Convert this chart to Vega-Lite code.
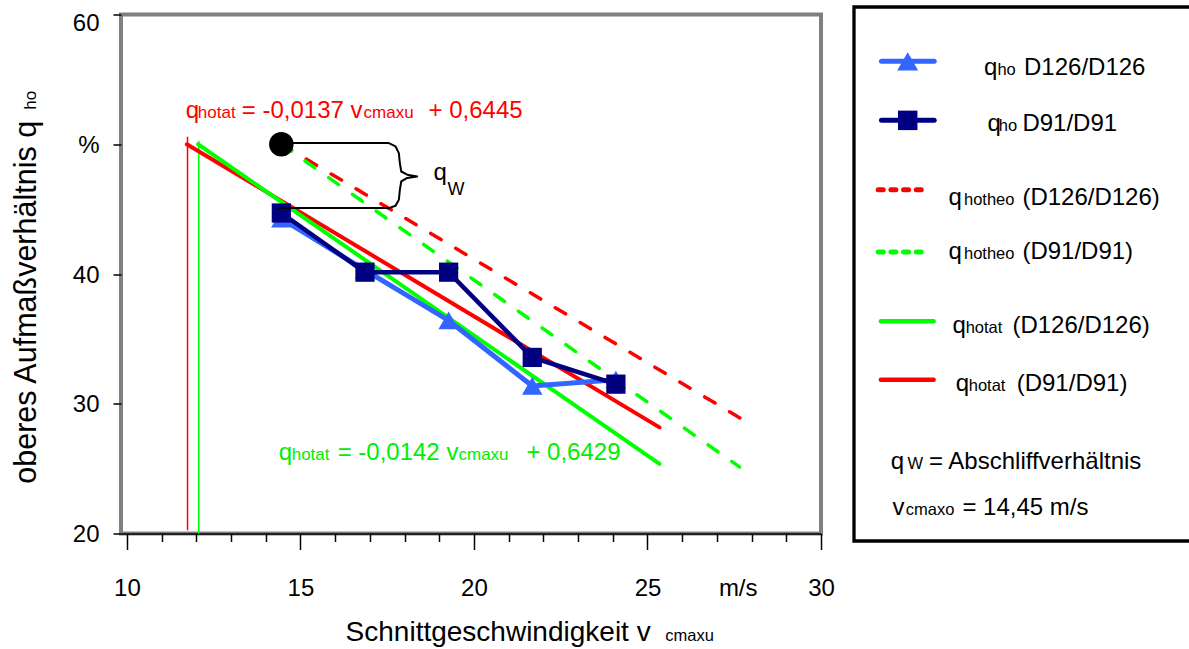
{
  "$schema": "https://vega.github.io/schema/vega-lite/v6.json",
  "background": "white",
  "padding": {"left": 10, "top": 0, "right": 0, "bottom": 0},
  "spacing": 33,
  "bounds": "flush",
  "center": true,
  "config": {
    "font": "Liberation Sans",
    "axis": {"labelFont": "Liberation Sans", "labelColor": "#000000", "tickColor": "#000000", "domainColor": "#000000"}
  },
  "datasets": {
    "grid": [{"q": 25}, {"q": 30}, {"q": 35}, {"q": 40}, {"q": 45}, {"q": 50}, {"q": 55}],
    "vlines": [
      {"s": "D91", "v": 11.747, "q": 50.58, "q2": 20.25},
      {"s": "D126", "v": 12.07, "q": 50.27, "q2": 20}
    ],
    "fits": [
      {"s": "hotat D91", "v": 11.727, "q": 50.0},
      {"s": "hotat D91", "v": 25.347, "q": 28.18},
      {"s": "hotat D126", "v": 12.05, "q": 50.0},
      {"s": "hotat D126", "v": 25.347, "q": 25.36},
      {"s": "hotheo D126", "v": 14.45, "q": 50.0},
      {"s": "hotheo D126", "v": 28.07, "q": 28.26},
      {"s": "hotheo D91", "v": 14.45, "q": 50.0},
      {"s": "hotheo D91", "v": 27.65, "q": 25.13}
    ],
    "pts": [
      {"s": "D126", "v": 14.45, "q": 44.26},
      {"s": "D126", "v": 16.86, "q": 40.3},
      {"s": "D126", "v": 19.27, "q": 36.42},
      {"s": "D126", "v": 21.68, "q": 31.37},
      {"s": "D126", "v": 24.09, "q": 31.85},
      {"s": "D91", "v": 14.45, "q": 44.7},
      {"s": "D91", "v": 16.86, "q": 40.14},
      {"s": "D91", "v": 19.27, "q": 40.14},
      {"s": "D91", "v": 21.68, "q": 33.57},
      {"s": "D91", "v": 24.09, "q": 31.51}
    ],
    "circle": [{"v": 14.45, "q": 50}],
    "brace": [
      {"i": 0, "v": 14.46, "q": 50.09},
      {"i": 1, "v": 17.548, "q": 50.09},
      {"i": 2, "v": 17.741, "q": 49.83},
      {"i": 3, "v": 17.836, "q": 49.32},
      {"i": 4, "v": 17.865, "q": 48.55},
      {"i": 5, "v": 17.905, "q": 47.9},
      {"i": 6, "v": 18.078, "q": 47.65},
      {"i": 7, "v": 18.365, "q": 47.52},
      {"i": 8, "v": 18.078, "q": 47.4},
      {"i": 9, "v": 17.905, "q": 47.13},
      {"i": 10, "v": 17.865, "q": 46.49},
      {"i": 11, "v": 17.836, "q": 45.72},
      {"i": 12, "v": 17.741, "q": 45.26},
      {"i": 13, "v": 17.548, "q": 45.08},
      {"i": 14, "v": 14.337, "q": 45.08}
    ],
    "labels": [
      {"g": "redBig", "t": "q", "v": 11.698, "q": 52.06},
      {"g": "redSmall", "t": "hotat", "v": 12.043, "q": 52.06},
      {"g": "redBig", "t": "= -0,0137 v", "v": 13.309, "q": 52.06},
      {"g": "redSmall", "t": "cmaxu", "v": 16.82, "q": 52.06},
      {"g": "redBig", "t": "+ 0,6445", "v": 18.691, "q": 52.06},
      {"g": "greenBig", "t": "q", "v": 14.374, "q": 25.64},
      {"g": "greenSmall", "t": "hotat", "v": 14.748, "q": 25.64},
      {"g": "greenBig", "t": "= -0,0142 v", "v": 16.072, "q": 25.64},
      {"g": "greenSmall", "t": "cmaxu", "v": 19.554, "q": 25.64},
      {"g": "greenBig", "t": "+ 0,6429", "v": 21.511, "q": 25.64},
      {"g": "qw", "t": "q", "v": 18.835, "q": 47.23},
      {"g": "qwSub", "t": "W", "v": 19.237, "q": 46.11},
      {"g": "xt", "t": "Schnittgeschwindigkeit v", "v": 16.302, "q": 11.7},
      {"g": "xtSub", "t": "cmaxu", "v": 25.511, "q": 11.7},
      {"g": "yt", "t": "oberes Aufmaßverhältnis q", "v": 7.381, "q": 23.84},
      {"g": "ytSub", "t": "ho", "v": 7.381, "q": 52.66}
    ],
    "legFrame": [
      {"i": 0, "lx": 100, "ly": 0},
      {"i": 1, "lx": 0, "ly": 0},
      {"i": 2, "lx": 0, "ly": 100},
      {"i": 3, "lx": 100, "ly": 100}
    ],
    "legLines": [
      {"s": "ho D126", "lx": 8.18, "ly": 10.18}, {"s": "ho D126", "lx": 23.87, "ly": 10.18},
      {"s": "ho D91", "lx": 8.18, "ly": 21.23}, {"s": "ho D91", "lx": 23.87, "ly": 21.23},
      {"s": "hotheo D126", "lx": 7.2, "ly": 34.2}, {"s": "hotheo D126", "lx": 20.1, "ly": 34.2},
      {"s": "hotheo D91", "lx": 7.2, "ly": 45.87}, {"s": "hotheo D91", "lx": 20.1, "ly": 45.87},
      {"s": "hotat D126", "lx": 8.0, "ly": 58.87}, {"s": "hotat D126", "lx": 23.7, "ly": 58.87},
      {"s": "hotat D91", "lx": 8.0, "ly": 69.79}, {"s": "hotat D91", "lx": 23.7, "ly": 69.79}
    ],
    "legSymbols": [
      {"s": "ho D126", "lx": 15.98, "ly": 10.18},
      {"s": "ho D91", "lx": 15.98, "ly": 21.23}
    ],
    "legText": [
      {"g": "big", "t": "q", "lx": 38.69, "ly": 12.67},
      {"g": "small", "t": "ho", "lx": 42.68, "ly": 12.67},
      {"g": "big", "t": "D126/D126", "lx": 50.6, "ly": 12.67},
      {"g": "big", "t": "q", "lx": 39.7, "ly": 23.29},
      {"g": "small", "t": "ho", "lx": 43.07, "ly": 23.29},
      {"g": "big", "t": "D91/D91", "lx": 50.12, "ly": 23.29},
      {"g": "big", "t": "q", "lx": 28.1, "ly": 37.01},
      {"g": "small", "t": "hotheo", "lx": 32.74, "ly": 37.01},
      {"g": "big", "t": "(D126/D126)", "lx": 50.12, "ly": 37.01},
      {"g": "big", "t": "q", "lx": 28.1, "ly": 47.13},
      {"g": "small", "t": "hotheo", "lx": 32.74, "ly": 47.13},
      {"g": "big", "t": "(D91/D91)", "lx": 50.12, "ly": 47.13},
      {"g": "big", "t": "q", "lx": 29.29, "ly": 61.04},
      {"g": "small", "t": "hotat", "lx": 33.24, "ly": 61.04},
      {"g": "big", "t": "(D126/D126)", "lx": 47.14, "ly": 61.04},
      {"g": "big", "t": "q", "lx": 30.27, "ly": 71.98},
      {"g": "small", "t": "hotat", "lx": 34.14, "ly": 71.98},
      {"g": "big", "t": "(D91/D91)", "lx": 48.42, "ly": 71.98},
      {"g": "big", "t": "q", "lx": 10.92, "ly": 86.45},
      {"g": "small", "t": "W", "lx": 15.89, "ly": 86.45},
      {"g": "big", "t": "= Abschliffverhältnis", "lx": 22.32, "ly": 86.45},
      {"g": "big", "t": "v", "lx": 11.43, "ly": 95.07},
      {"g": "small", "t": "cmaxo", "lx": 15.39, "ly": 95.07},
      {"g": "big", "t": "= 14,45 m/s", "lx": 32.26, "ly": 95.07}
    ]
  },
  "hconcat": [
    {
      "width": 700,
      "height": 519,
      "view": {"stroke": "#808080", "strokeWidth": 4},
      "encoding": {
        "x": {
          "field": "v", "type": "quantitative",
          "scale": {"domain": [9.83, 30], "nice": false, "zero": false},
          "axis": {
            "title": null,
            "values": [10, 11, 12, 13, 14, 15, 16, 17, 18, 19, 20, 21, 22, 23, 24, 25, 26, 27, 28, 29, 30, 27.6],
            "labelExpr": "datum.value % 5 == 0 ? datum.label : (abs(datum.value - 27.6) < 0.01 ? 'm/s' : '')",
            "tickSize": {"condition": {"test": "datum.value % 5 == 0 || abs(datum.value - 27.6) < 0.01", "value": 16}, "value": 8},
            "tickOpacity": {"condition": {"test": "abs(datum.value - 27.6) < 0.01", "value": 0}, "value": 1},
            "tickWidth": 1.5,
            "domain": true,
            "domainWidth": 1.5,
            "labelFontSize": 24,
            "labelPadding": 27,
            "grid": false,
            "labelFlush": false,
            "labelOverlap": false
          }
        },
        "y": {
          "field": "q", "type": "quantitative",
          "scale": {"domain": [20, 60], "nice": false, "zero": false},
          "axis": {
            "title": null,
            "values": [20, 30, 40, 50, 60],
            "labelExpr": "datum.value == 50 ? '%' : datum.label",
            "labelOffset": {"condition": {"test": "datum.value == 60", "value": 9}, "value": 1},
            "tickSize": 8,
            "tickWidth": 1.5,
            "domain": false,
            "labelFontSize": 24,
            "labelPadding": 14,
            "grid": false,
            "labelFlush": false,
            "labelOverlap": false
          }
        }
      },
      "layer": [
        {
          "data": {"name": "grid"},
          "mark": {"type": "rule", "color": "#1a1a1a", "strokeWidth": 1.2},
          "encoding": {"x": {"datum": 10}, "x2": {"datum": 30}, "y": {"field": "q", "type": "quantitative"}}
        },
        {
          "data": {"name": "vlines"},
          "transform": [{"filter": "datum.s == 'D91'"}],
          "mark": {"type": "rule", "color": "#ff0000", "strokeWidth": 1.5},
          "encoding": {"y2": {"field": "q2"}}
        },
        {
          "data": {"name": "vlines"},
          "transform": [{"filter": "datum.s == 'D126'"}],
          "mark": {"type": "rule", "color": "#00ff00", "strokeWidth": 1.5},
          "encoding": {"y2": {"field": "q2"}}
        },
        {
          "data": {"name": "fits"},
          "transform": [{"filter": "datum.s == 'hotat D91'"}],
          "mark": {"type": "line", "color": "#ff0000", "strokeWidth": 4, "strokeCap": "round"},
          "encoding": {}
        },
        {
          "data": {"name": "fits"},
          "transform": [{"filter": "datum.s == 'hotat D126'"}],
          "mark": {"type": "line", "color": "#00ff00", "strokeWidth": 4, "strokeCap": "round"},
          "encoding": {}
        },
        {
          "data": {"name": "fits"},
          "transform": [{"filter": "datum.s == 'hotheo D126'"}],
          "mark": {"type": "line", "color": "#ff0000", "strokeWidth": 3.5, "strokeCap": "round", "strokeDash": [12, 17]},
          "encoding": {}
        },
        {
          "data": {"name": "fits"},
          "transform": [{"filter": "datum.s == 'hotheo D91'"}],
          "mark": {"type": "line", "color": "#00ff00", "strokeWidth": 3.5, "strokeCap": "round", "strokeDash": [12, 17]},
          "encoding": {}
        },
        {
          "data": {"name": "pts"},
          "transform": [{"filter": "datum.s == 'D126'"}],
          "mark": {"type": "line", "color": "#3366ff", "strokeWidth": 5,
                   "point": {"shape": "triangle-up", "size": 420, "filled": true, "color": "#3366ff", "opacity": 1}},
          "encoding": {}
        },
        {
          "data": {"name": "pts"},
          "transform": [{"filter": "datum.s == 'D91'"}],
          "mark": {"type": "line", "color": "#000080", "strokeWidth": 4.5,
                   "point": {"shape": "square", "size": 370, "filled": true, "color": "#000080", "opacity": 1}},
          "encoding": {}
        },
        {
          "data": {"name": "circle"},
          "mark": {"type": "point", "shape": "circle", "size": 600, "filled": true, "color": "#000000", "opacity": 1},
          "encoding": {}
        },
        {
          "data": {"name": "brace"},
          "mark": {"type": "line", "color": "#000000", "strokeWidth": 2, "strokeJoin": "round"},
          "encoding": {"order": {"field": "i", "type": "quantitative"}}
        },
        {
          "data": {"name": "labels"},
          "transform": [{"filter": "datum.g == 'redBig'"}],
          "mark": {"type": "text", "align": "left", "baseline": "alphabetic", "fontSize": 24, "color": "#ff0000"},
          "encoding": {"text": {"field": "t"}}
        },
        {
          "data": {"name": "labels"},
          "transform": [{"filter": "datum.g == 'redSmall'"}],
          "mark": {"type": "text", "align": "left", "baseline": "alphabetic", "fontSize": 17, "color": "#ff0000"},
          "encoding": {"text": {"field": "t"}}
        },
        {
          "data": {"name": "labels"},
          "transform": [{"filter": "datum.g == 'greenBig'"}],
          "mark": {"type": "text", "align": "left", "baseline": "alphabetic", "fontSize": 24, "color": "#00ee00"},
          "encoding": {"text": {"field": "t"}}
        },
        {
          "data": {"name": "labels"},
          "transform": [{"filter": "datum.g == 'greenSmall'"}],
          "mark": {"type": "text", "align": "left", "baseline": "alphabetic", "fontSize": 17, "color": "#00ee00"},
          "encoding": {"text": {"field": "t"}}
        },
        {
          "data": {"name": "labels"},
          "transform": [{"filter": "datum.g == 'qw'"}],
          "mark": {"type": "text", "align": "left", "baseline": "alphabetic", "fontSize": 24, "color": "#000000"},
          "encoding": {"text": {"field": "t"}}
        },
        {
          "data": {"name": "labels"},
          "transform": [{"filter": "datum.g == 'qwSub'"}],
          "mark": {"type": "text", "align": "left", "baseline": "alphabetic", "fontSize": 18, "color": "#000000"},
          "encoding": {"text": {"field": "t"}}
        },
        {
          "data": {"name": "labels"},
          "transform": [{"filter": "datum.g == 'xt'"}],
          "mark": {"type": "text", "align": "left", "baseline": "alphabetic", "fontSize": 28, "color": "#000000"},
          "encoding": {"text": {"field": "t"}}
        },
        {
          "data": {"name": "labels"},
          "transform": [{"filter": "datum.g == 'xtSub'"}],
          "mark": {"type": "text", "align": "left", "baseline": "alphabetic", "fontSize": 16.5, "color": "#000000"},
          "encoding": {"text": {"field": "t"}}
        },
        {
          "data": {"name": "labels"},
          "transform": [{"filter": "datum.g == 'yt'"}],
          "mark": {"type": "text", "align": "left", "baseline": "alphabetic", "fontSize": 30.5, "angle": 270, "color": "#000000"},
          "encoding": {"text": {"field": "t"}}
        },
        {
          "data": {"name": "labels"},
          "transform": [{"filter": "datum.g == 'ytSub'"}],
          "mark": {"type": "text", "align": "left", "baseline": "alphabetic", "fontSize": 17, "angle": 270, "color": "#000000"},
          "encoding": {"text": {"field": "t"}}
        }
      ]
    },
    {
      "width": 336,
      "height": 534,
      "view": {"stroke": null},
      "encoding": {
        "x": {"field": "lx", "type": "quantitative", "scale": {"domain": [0, 100], "nice": false, "zero": false}, "axis": null},
        "y": {"field": "ly", "type": "quantitative", "scale": {"domain": [0, 100], "reverse": true, "nice": false, "zero": false}, "axis": null}
      },
      "layer": [
        {
          "data": {"name": "legFrame"},
          "mark": {"type": "line", "color": "#000000", "strokeWidth": 3.3, "strokeJoin": "miter", "strokeCap": "butt"},
          "encoding": {"order": {"field": "i", "type": "quantitative"}}
        },
        {
          "data": {"name": "legLines"},
          "transform": [{"filter": "datum.s == 'ho D126'"}],
          "mark": {"type": "line", "color": "#3366ff", "strokeWidth": 5, "strokeCap": "round"},
          "encoding": {}
        },
        {
          "data": {"name": "legLines"},
          "transform": [{"filter": "datum.s == 'ho D91'"}],
          "mark": {"type": "line", "color": "#000080", "strokeWidth": 5, "strokeCap": "round"},
          "encoding": {}
        },
        {
          "data": {"name": "legLines"},
          "transform": [{"filter": "datum.s == 'hotheo D126'"}],
          "mark": {"type": "line", "color": "#ff0000", "strokeWidth": 5, "strokeCap": "round", "strokeDash": [5, 7.7]},
          "encoding": {}
        },
        {
          "data": {"name": "legLines"},
          "transform": [{"filter": "datum.s == 'hotheo D91'"}],
          "mark": {"type": "line", "color": "#00ff00", "strokeWidth": 5, "strokeCap": "round", "strokeDash": [5, 7.7]},
          "encoding": {}
        },
        {
          "data": {"name": "legLines"},
          "transform": [{"filter": "datum.s == 'hotat D126'"}],
          "mark": {"type": "line", "color": "#00ff00", "strokeWidth": 4.5, "strokeCap": "round"},
          "encoding": {}
        },
        {
          "data": {"name": "legLines"},
          "transform": [{"filter": "datum.s == 'hotat D91'"}],
          "mark": {"type": "line", "color": "#ff0000", "strokeWidth": 4.5, "strokeCap": "round"},
          "encoding": {}
        },
        {
          "data": {"name": "legSymbols"},
          "transform": [{"filter": "datum.s == 'ho D126'"}],
          "mark": {"type": "point", "shape": "triangle-up", "size": 440, "filled": true, "color": "#3366ff", "opacity": 1},
          "encoding": {}
        },
        {
          "data": {"name": "legSymbols"},
          "transform": [{"filter": "datum.s == 'ho D91'"}],
          "mark": {"type": "point", "shape": "square", "size": 380, "filled": true, "color": "#000080", "opacity": 1},
          "encoding": {}
        },
        {
          "data": {"name": "legText"},
          "transform": [{"filter": "datum.g == 'big'"}],
          "mark": {"type": "text", "align": "left", "baseline": "alphabetic", "fontSize": 24, "color": "#000000"},
          "encoding": {"text": {"field": "t"}}
        },
        {
          "data": {"name": "legText"},
          "transform": [{"filter": "datum.g == 'small'"}],
          "mark": {"type": "text", "align": "left", "baseline": "alphabetic", "fontSize": 16.5, "color": "#000000"},
          "encoding": {"text": {"field": "t"}}
        }
      ]
    }
  ]
}
